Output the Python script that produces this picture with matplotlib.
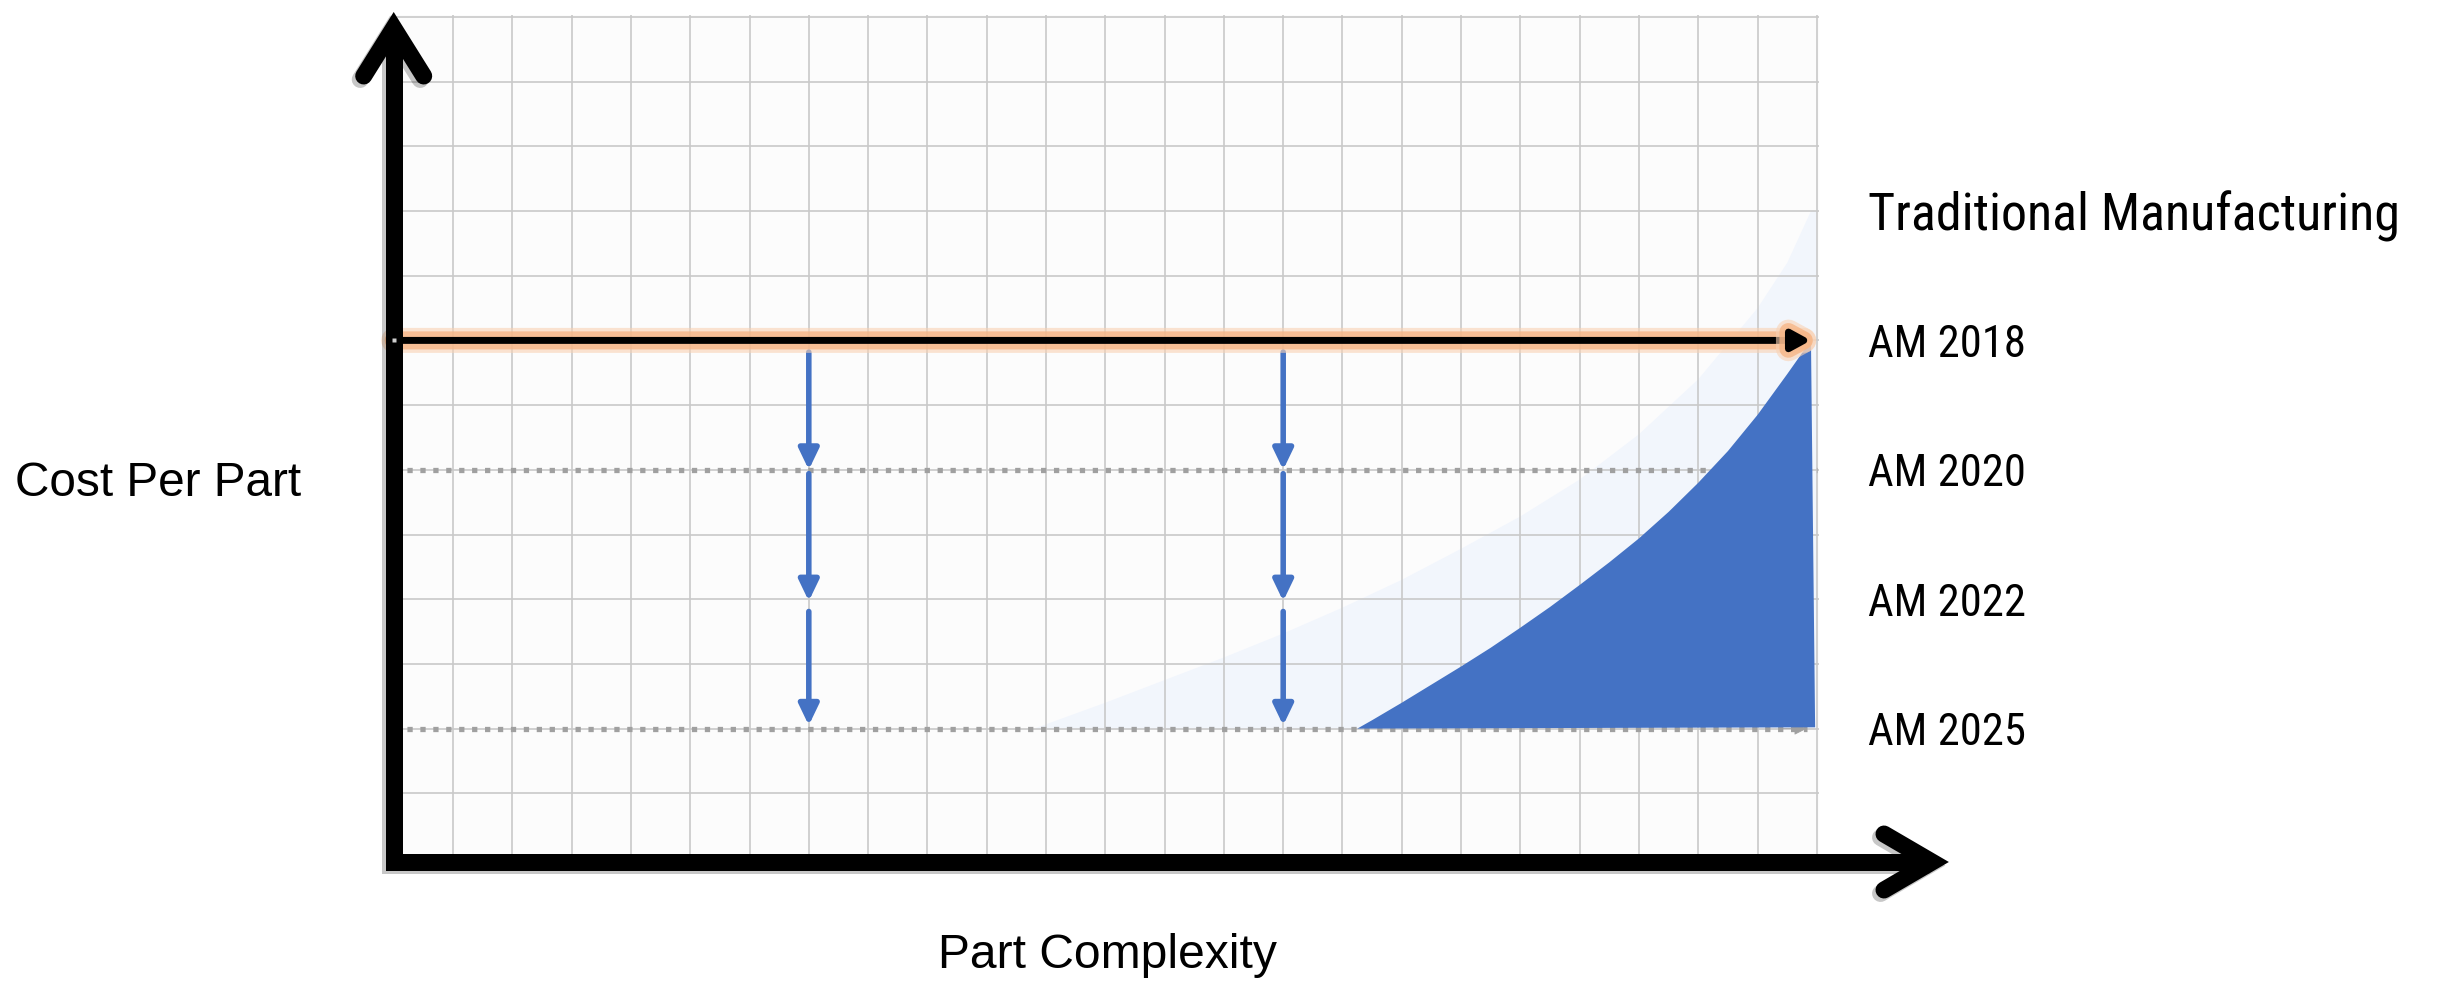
import matplotlib
matplotlib.use('Agg')
import matplotlib.pyplot as plt
import matplotlib.patheffects as pe
from matplotlib import font_manager as fm

# ---------------- data ----------------
n_cols, n_rows = 24, 13
level_names = ['Traditional Manufacturing', 'AM 2018', 'AM 2020', 'AM 2022', 'AM 2025']
level_values = [10, 8, 6, 4, 2]
am2018_level = 8
am2018_end = 23.9
dotted_levels = [6, 2]
dotted_ends = [24.0, 23.83]
arrow_x = [7, 15]
arrow_starts = [7.82, 5.94, 3.81]
arrow_ends = [6.0, 3.97, 2.05]
blue_x = [16.25, 16.5, 17, 17.5, 18, 18.5, 19, 19.5, 20, 20.5, 21, 21.5, 22, 22.5, 23,
          23.5, 23.9, 23.97]
blue_y = [2.0, 2.13, 2.4, 2.68, 2.96, 3.25, 3.56, 3.88, 4.22, 4.57, 4.94, 5.35, 5.8, 6.29,
          6.85, 7.48, 8.0, 2.02]
pale_x = [10.8, 12, 13, 14, 15, 16, 17, 18, 19, 20, 21, 22, 23, 23.5, 23.9, 24.0, 24.0]
pale_y = [2.0, 2.4, 2.75, 3.1, 3.47, 3.87, 4.3, 4.78, 5.28, 5.85, 6.55, 7.4, 8.5, 9.2,
          10.0, 10.0, 2.0]
x_label = 'Part Complexity'
y_label = 'Cost Per Part'

BLUE = '#4472C4'
DOT_GREY = '#A0A0A0'
arial = ['Liberation Sans', 'DejaVu Sans']


def pick_narrow_font():
    prefs = ['Liberation Sans Narrow', 'Arial Narrow', 'Roboto Condensed',
             'Open Sans Condensed', 'Noto Sans Condensed', 'Open Sans', 'Noto Sans']
    entries = fm.fontManager.ttflist

    def regular(f):
        return f.style == 'normal' and f.weight in (400, 'normal', 'regular', 'book')

    for name in prefs:
        for f in entries:
            if f.name == name and regular(f) and (
                    'Condensed' in name or 'Narrow' in name or
                    f.stretch in ('condensed', 'semi-condensed')):
                return fm.FontProperties(fname=f.fname)
    for f in entries:
        if f.name == 'DejaVu Sans' and regular(f) and f.stretch == 'condensed':
            return fm.FontProperties(fname=f.fname)
    for f in entries:
        if regular(f) and f.stretch in ('condensed', 'semi-condensed') and 'Mono' not in f.name \
                and 'Serif' not in f.name:
            return fm.FontProperties(fname=f.fname)
    return fm.FontProperties(family=['Liberation Sans', 'DejaVu Sans'])


narrow_fp = pick_narrow_font()

# ---------------- layout ----------------
W, H = 2441, 982
fig = plt.figure(figsize=(W / 100, H / 100), dpi=100)
fig.patch.set_facecolor('white')

x0_px, ux = 393.7, 59.3
y0_px, uy = 858.0, 64.7
xmax, ymax = n_cols + 0.03, n_rows + 0.03
ax = fig.add_axes([x0_px / W, (H - y0_px) / H, xmax * ux / W, ymax * uy / H])
ax.set_xlim(0, xmax)
ax.set_ylim(0, ymax)
ax.set_facecolor('#FCFCFC')
for s in ax.spines.values():
    s.set_visible(False)
ax.set_xticks(range(n_cols + 1))
ax.set_yticks(range(n_rows + 1))
ax.tick_params(length=0, labelbottom=False, labelleft=False)
ax.grid(True, color='#C9C9C9', lw=1.2)
ax.set_axisbelow(True)


def px(x):
    return (x - x0_px) / ux


def py(y):
    return (y0_px - y) / uy


# pale region
ax.fill(pale_x, pale_y, color='#F2F6FC', lw=0, zorder=0.3)

# dotted level lines
for lv, xe in zip(dotted_levels, dotted_ends):
    ax.plot([0, xe], [lv, lv], color=DOT_GREY, lw=3.8, ls=(0, (1.0, 1.45)),
            dash_capstyle='butt', zorder=2)
ax.annotate('', xy=(dotted_ends[1], dotted_levels[1]),
            xytext=(dotted_ends[1] - 0.4, dotted_levels[1]),
            arrowprops=dict(arrowstyle='-|>,head_length=8,head_width=4', mutation_scale=1,
                            color=DOT_GREY, lw=0.5, shrinkA=0, shrinkB=0),
            zorder=2.1)

# blue AM region
ax.fill(blue_x, blue_y, color=BLUE, lw=0, zorder=3)

# downward blue arrows
for x in arrow_x:
    for ys, ye in zip(arrow_starts, arrow_ends):
        ax.annotate('', xy=(x, ye), xytext=(x, ys),
                    arrowprops=dict(arrowstyle='-|>,head_length=12.5,head_width=6',
                                    mutation_scale=1, color=BLUE, lw=4.0,
                                    shrinkA=0, shrinkB=0),
                    zorder=4)

# AM 2018 line with orange glow
glow = [pe.Stroke(linewidth=18, foreground='#F9D2B4', alpha=0.6),
        pe.Stroke(linewidth=13, foreground='#F6B382', alpha=0.75),
        pe.Normal()]
ax.annotate('', xy=(am2018_end, am2018_level), xytext=(0, am2018_level),
            arrowprops=dict(arrowstyle='-|>,head_length=11,head_width=6', mutation_scale=1,
                            color='black', lw=5, shrinkA=0, shrinkB=0,
                            path_effects=glow),
            zorder=5, annotation_clip=False)
ax.plot([0], [am2018_level], marker='s', ms=3.5, color='#CFCFCF', mec='none',
        zorder=7, clip_on=False)

# axes arrows
shadow = [pe.SimpleLineShadow(offset=(-2.5, -2.5), shadow_color='black', alpha=0.22),
          pe.Normal()]
axis_y = py(862)
lw_axis = 17 / 1.389
ax.plot([0, 0, px(1932)], [py(28), axis_y, axis_y], color='black', lw=lw_axis,
        solid_joinstyle='miter', solid_capstyle='butt', clip_on=False, zorder=6,
        path_effects=shadow)
ax.plot([-30 / ux, 0, 30 / ux], [py(76), py(28), py(76)], color='black', lw=lw_axis,
        solid_joinstyle='miter', solid_capstyle='round', clip_on=False, zorder=6,
        path_effects=shadow)
ax.plot([px(1884), px(1932), px(1884)], [py(834), axis_y, py(890)], color='black',
        lw=lw_axis, solid_joinstyle='miter', solid_capstyle='round', clip_on=False,
        zorder=6, path_effects=shadow)

# right labels (size fitted to the reference text widths)
label_widths = [532, 158, 158, 158, 158]
renderer = fig.canvas.get_renderer()
for name, lv, wpx in zip(level_names, level_values, label_widths):
    fp = narrow_fp.copy()
    fp.set_size(36)
    t = ax.text(px(1868), lv, name, fontproperties=fp, ha='left',
                va='center_baseline', clip_on=False)
    w = t.get_window_extent(renderer).width
    new_size = min(36 * wpx / w, 44)
    t.set_fontsize(new_size)

# axis titles
t1 = fig.text(15 / W, 1 - 478 / H, y_label, fontsize=34, family=arial, ha='left',
              va='center_baseline')
t2 = fig.text(1107 / W, 1 - 951 / H, x_label, fontsize=34, family=arial, ha='center',
              va='center_baseline')
for t, wpx in ((t1, 287), (t2, 339)):
    w = t.get_window_extent(renderer).width
    t.set_fontsize(34 * wpx / w)

fig.savefig('out.png', dpi=100, facecolor='white')
